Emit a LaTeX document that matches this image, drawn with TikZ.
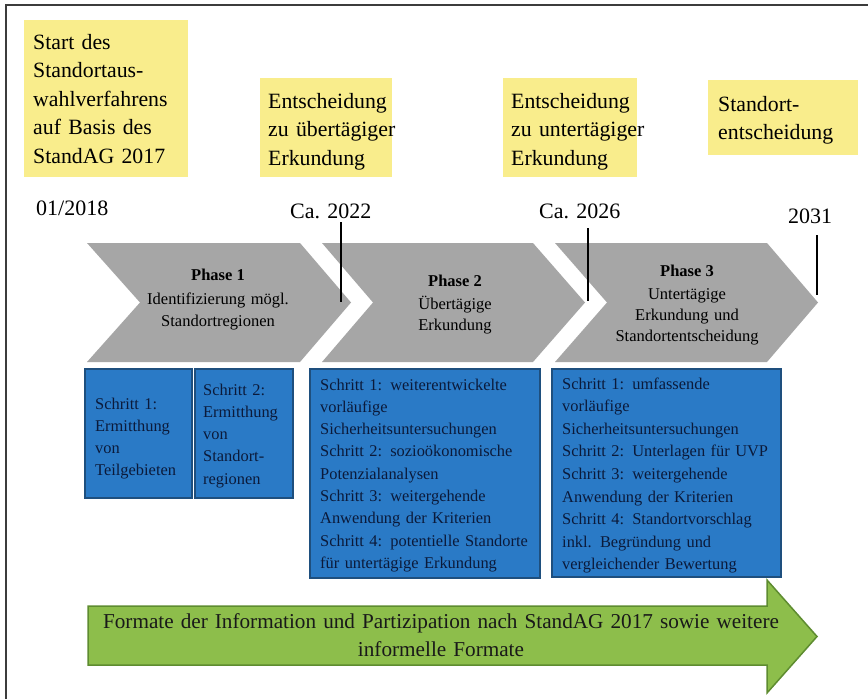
\documentclass[tikz,border=0pt]{standalone}
\usepackage{fontspec}
\setmainfont{Liberation Serif}
\definecolor{noteyellow}{RGB}{249,237,140}
\definecolor{phasegray}{RGB}{166,166,166}
\definecolor{stepblue}{RGB}{42,122,198}
\definecolor{stepedge}{RGB}{30,79,126}
\definecolor{steptextcol}{RGB}{11,26,58}
\definecolor{infogreen}{RGB}{141,190,75}
\definecolor{infoedge}{RGB}{94,140,48}
\definecolor{framecol}{RGB}{60,60,60}
\begin{document}
\begin{tikzpicture}[x=1pt,y=-1pt,
  note/.style={fill=noteyellow},
  notetext/.style={anchor=base west, inner sep=0pt, text width=170pt, align=left,
    font=\fontsize{21.8}{28.5}\selectfont},
  datelabel/.style={anchor=base west, inner sep=0pt, font=\fontsize{22}{26}\selectfont},
  tickline/.style={line width=2pt, black},
  phase/.style={fill=phasegray},
  phasetitle/.style={anchor=base, inner sep=0pt, font=\bfseries\fontsize{16.5}{22}\selectfont},
  phasetext/.style={anchor=base, inner sep=0pt, text width=200pt, align=center,
    font=\fontsize{16.5}{#1}\selectfont},
  stepbox/.style={fill=stepblue, draw=stepedge, line width=1.5pt},
  steptext/.style={anchor=base west, inner sep=0pt, text width=225pt, align=left,
    text=steptextcol, font=\fontsize{16.4}{#1}\selectfont},
  infoarrow/.style={fill=infogreen, draw=infoedge, line width=1.5pt, line join=miter},
  infotext/.style={anchor=base, inner sep=0pt, text width=740pt, align=center,
    text=black!90, font=\fontsize{21.2}{28}\selectfont}
]
\useasboundingbox (0,0) rectangle (868,699);
\fill[white] (0,0) rectangle (868,699);

% outer frame (left and top edges)
\draw[framecol, line width=1.5pt] (6,699) -- (6,5) -- (868,5);

% milestone notes
\fill[note] (24,20) rectangle (188,177);
\fill[note] (260,78) rectangle (392,177);
\fill[note] (503,78) rectangle (637,177);
\fill[note] (708,80) rectangle (858,155);
\node[notetext] (n1) at (33,49) {Start des\\Standortaus-\\wahlverfahrens\\auf Basis des\\StandAG 2017};
\node[notetext] (n2) at (268,108) {Entscheidung\\zu übertägiger\\Erkundung};
\node[notetext] (n3) at (511,108) {Entscheidung\\zu untertägiger\\Erkundung};
\node[notetext] (n4) at (718,111) {Standort-\\entscheidung};

% dates and ticks
\node[datelabel] (d1) at (36,215) {01/2018};
\node[datelabel] (d2) at (290,218) {Ca. 2022};
\node[datelabel] (d3) at (539,218) {Ca. 2026};
\node[datelabel] (d4) at (788,223) {2031};
\coordinate (t2a) at (341,222); \coordinate (t2b) at (341,302);
\coordinate (t3a) at (588,228); \coordinate (t3b) at (588,301);
\coordinate (t4a) at (817,235); \coordinate (t4b) at (817,295);

% phase chevrons
\fill[phase] (87,243) -- (300,243) -- (351,302.5) -- (300,362) -- (87,362) -- (140,302.5) -- cycle;
\fill[phase] (322,243) -- (533,243) -- (585,302.5) -- (533,362) -- (322,362) -- (373,302.5) -- cycle;
\fill[phase] (555,243) -- (767,243) -- (818,302.5) -- (767,362) -- (555,362) -- (607,302.5) -- cycle;

\draw[tickline] (t2a) -- (t2b);
\draw[tickline] (t3a) -- (t3b);
\draw[tickline] (t4a) -- (t4b);

\node[phasetitle] (p1) at (218,280) {Phase 1};
\node[phasetext=22.5] (p1t) at (218,304) {Identifizierung mögl.\\Standortregionen};
\node[phasetitle] (p2) at (455,286) {Phase 2};
\node[phasetext=21.5] (p2t) at (455,309) {Übertägige\\Erkundung};
\node[phasetitle] (p3) at (687,276) {Phase 3};
\node[phasetext=21.3] (p3t) at (687,299) {Untertägige\\Erkundung und\\Standortentscheidung};

% step boxes
\draw[stepbox] (85,369) rectangle (192,498);
\draw[stepbox] (195,369) rectangle (293,498);
\draw[stepbox] (310,369) rectangle (540,578);
\draw[stepbox] (552,369) rectangle (781,577);
\node[steptext=22.3] (s1) at (95,409) {Schritt 1:\\Ermitthung\\von\\Teilgebieten};
\node[steptext=22.3] (s2) at (203,395) {Schritt 2:\\Ermitthung\\von\\Standort-\\regionen};
\node[steptext=22.3] (s3) at (320,390) {Schritt 1: weiterentwickelte\\vorläufige\\Sicherheitsuntersuchungen\\Schritt 2: sozioökonomische\\Potenzialanalysen\\Schritt 3: weitergehende\\Anwendung der Kriterien\\Schritt 4: potentielle Standorte\\für untertägige Erkundung};
\node[steptext=22.6] (s4) at (562,389) {Schritt 1: umfassende\\vorläufige\\Sicherheitsuntersuchungen\\Schritt 2: Unterlagen für UVP\\Schritt 3: weitergehende\\Anwendung der Kriterien\\Schritt 4: Standortvorschlag\\inkl. Begründung und\\vergleichender Bewertung};

% information and participation arrow
\draw[infoarrow] (88,606) -- (767,606) -- (767,580) -- (817,636.5) -- (767,693) -- (767,665) -- (88,665) -- cycle;
\node[infotext] (info) at (441,628) {Formate der Information und Partizipation nach StandAG 2017 sowie weitere\\informelle Formate};
\end{tikzpicture}
\end{document}
